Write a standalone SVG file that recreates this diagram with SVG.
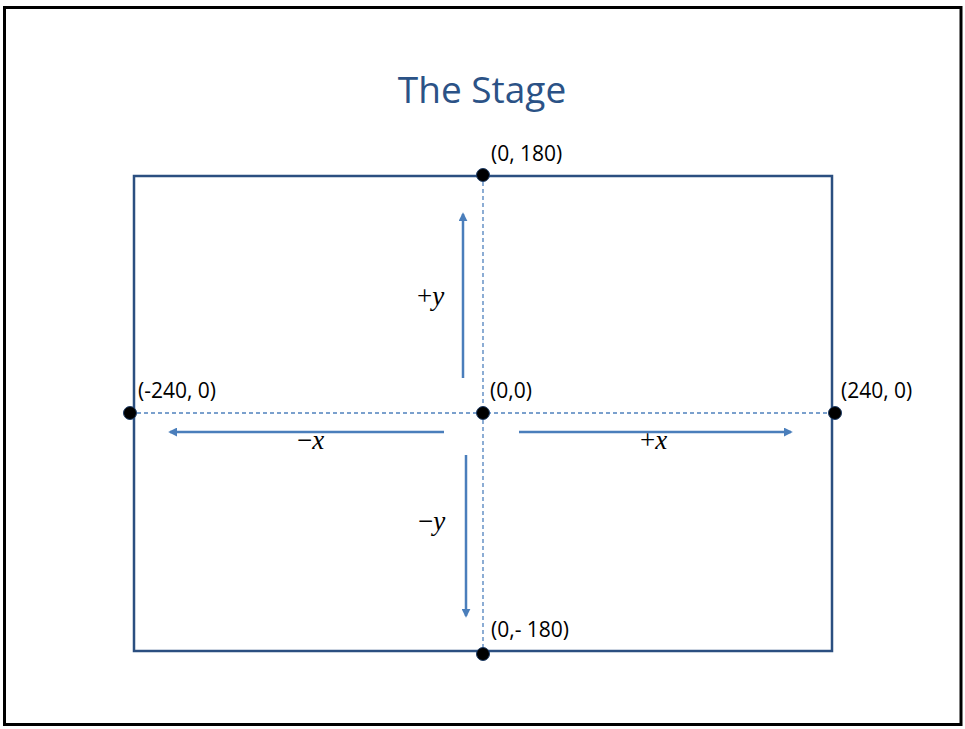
<svg xmlns="http://www.w3.org/2000/svg" width="965" height="729" viewBox="0 0 965 729">
<style>
.lbl{font-family:"Open Sans","Liberation Sans",sans-serif;font-size:21px;fill:#000}
.math{font-family:"Liberation Serif",serif;font-size:27px;fill:#000}
.mi{font-style:italic}
.guide{stroke:#4f81bd;stroke-width:1.3;stroke-dasharray:4 3;fill:none}
.arr{stroke:#4a7ebb;stroke-width:2.5;fill:none;marker-end:url(#ah)}
.dot{fill:#000;stroke:#1f3d66;stroke-width:1}
</style>
<defs>
<marker id="ah" viewBox="0 0 10 10" refX="8" refY="5" markerWidth="3.6" markerHeight="3.6" orient="auto" markerUnits="strokeWidth">
<path d="M0,0 L10,5 L0,10 z" fill="#4a7ebb"/>
</marker>
</defs>
<rect x="4.5" y="7.5" width="956.5" height="717" fill="#fff" stroke="#000" stroke-width="3"/>
<text x="482" y="103" text-anchor="middle" font-family="Open Sans, Liberation Sans, sans-serif" font-size="37" fill="#2b5286">The Stage</text>
<g id="stage"><rect x="134" y="176" width="698" height="475" fill="none" stroke="#2b4f80" stroke-width="2.5"/></g>
<g id="connectors">
<line class="guide" x1="130" y1="413" x2="835" y2="413"/>
<line class="guide" x1="483" y1="175" x2="483" y2="654"/>
<line class="arr" x1="463" y1="378" x2="463" y2="214"/>
<line class="arr" x1="466" y1="455" x2="466" y2="616"/>
<line class="arr" x1="444" y1="432" x2="170" y2="432"/>
<line class="arr" x1="519" y1="432" x2="791" y2="432"/>
</g>
<g id="top"><circle class="dot" cx="483" cy="175" r="6.5"/><text class="lbl" x="491" y="161">(0, 180)</text></g>
<g id="left"><circle class="dot" cx="130" cy="413" r="6.5"/><text class="lbl" x="138" y="398">(-240, 0)</text></g>
<g id="origin"><circle class="dot" cx="483" cy="413" r="6.5"/><text class="lbl" x="490" y="398">(0,0)</text></g>
<g id="right"><circle class="dot" cx="835" cy="413" r="6.5"/><text class="lbl" x="841" y="398">(240, 0)</text></g>
<g id="bottom"><circle class="dot" cx="483" cy="654" r="6.5"/><text class="lbl" x="491" y="637">(0,- 180)</text></g>
<g id="labels">
<text class="math" x="417" y="305">+<tspan class="mi">y</tspan></text>
<text class="math" x="418" y="530">−<tspan class="mi">y</tspan></text>
<text class="math" x="297" y="449">−<tspan class="mi">x</tspan></text>
<text class="math" x="640" y="449">+<tspan class="mi">x</tspan></text>
</g>
</svg>
